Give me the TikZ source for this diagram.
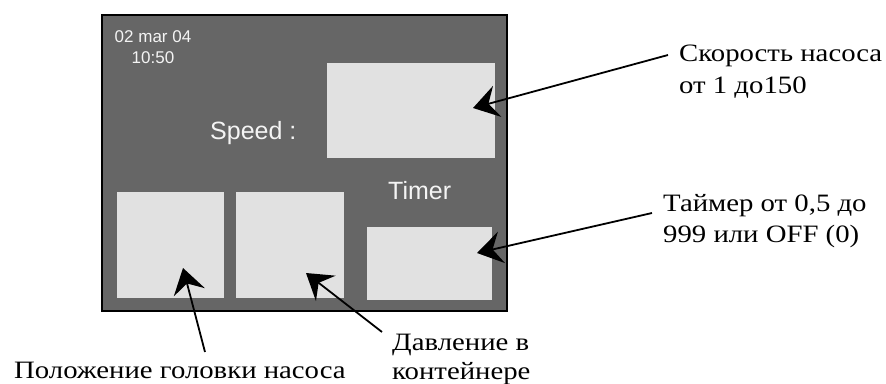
\documentclass[tikz,border=0pt]{standalone}
\usepackage{fontspec}
\setmainfont{Liberation Serif}
\newfontfamily\lblfont[FakeStretch=1.15]{Liberation Serif}
\newfontfamily\dispfont{Liberation Sans}
\usetikzlibrary{arrows.meta}
\definecolor{panelgray}{HTML}{666666}
\definecolor{fieldgray}{HTML}{E1E1E1}
\definecolor{disptext}{HTML}{F4F4F4}
\begin{document}
\begin{tikzpicture}[x=1pt,y=-1pt,
  panelbox/.style={fill=panelgray, draw=black, line width=1.5pt, inner sep=0pt},
  fieldbox/.style={fill=fieldgray, draw=none, inner sep=0pt, outer sep=0pt},
  dispsmall/.style={text=disptext, font=\dispfont\fontsize{17}{21}\selectfont, inner sep=0pt, align=center},
  displarge/.style={text=disptext, font=\dispfont\fontsize{25}{30}\selectfont, inner sep=0pt, anchor=base west},
  lbl/.style={font=\lblfont\fontsize{25}{32}\selectfont, align=left, inner sep=0pt, anchor=base west},
  pointer/.style={line width=1.8pt, -{Stealth[length=25pt,width=32pt,inset=9pt]}}]
\useasboundingbox (0,0) rectangle (886,383);
% display panel
\node[panelbox, minimum width=405pt, minimum height=296pt] (panel) at (304.5,163) {};
\node[fieldbox, minimum width=168pt, minimum height=95pt] (speedbox) at (411,110.5) {};
\node[fieldbox, minimum width=107pt, minimum height=106pt] (posbox) at (170.5,245) {};
\node[fieldbox, minimum width=108pt, minimum height=106pt] (presbox) at (290,245) {};
\node[fieldbox, minimum width=125pt, minimum height=73pt] (timerbox) at (429.5,263.5) {};
% display texts (base anchor of a multi-line node = last line)
\node[dispsmall, anchor=base] (date) at (153,63) {02 mar 04\\10:50};
\node[displarge] (speedtxt) at (210,139) {Speed :};
\node[displarge] (timertxt) at (388,199) {Timer};
% labels
\node[lbl] (speedlbl) at (679,93) {Скорость насоса\\от 1 до150};
\node[lbl, font=\lblfont\fontsize{25}{31}\selectfont] (timerlbl) at (663,242) {Таймер от 0,5 до\\999 или OFF (0)};
\node[lbl] (poslbl) at (14,378) {Положение головки насоса};
\node[lbl, font=\lblfont\fontsize{25}{29}\selectfont] (preslbl) at (392,379) {Давление в\\контейнере};
% connector ends
\coordinate (spstart) at (668,55);
\coordinate (sptip) at (473,108);
\coordinate (tmstart) at (652,213);
\coordinate (tmtip) at (477,253);
\coordinate (psstart) at (205,352);
\coordinate (pstip) at (183,268);
\coordinate (prstart) at (382,332);
\coordinate (prtip) at (306,273);
\draw[pointer] (spstart) -- (sptip);
\draw[pointer] (tmstart) -- (tmtip);
\draw[pointer] (psstart) -- (pstip);
\draw[pointer] (prstart) -- (prtip);
\end{tikzpicture}
\end{document}
